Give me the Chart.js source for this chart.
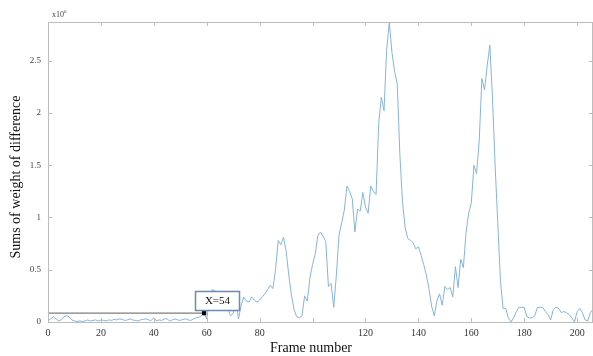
<!DOCTYPE html>
<html>
<head>
<meta charset="utf-8">
<script src="https://cdn.jsdelivr.net/npm/chart.js@4.4.1/dist/chart.umd.min.js"></script>
<style>
 body { margin: 0; background: #fff; }
 canvas { display: block; }
</style>
</head>
<body>
<canvas id="diffChart" width="593" height="356"></canvas>
<script>
// sums of weight of difference, in units of 10^6, one value per frame (0..206)
const diffValues = [
 0.01, 0.03, 0.05, 0.03, 0.01, 0.02, 0.05, 0.06, 0.05, 0.02, 0.01,
 0.005, 0.01, 0.005, 0.01, 0.02, 0.01, 0.015, 0.02, 0.01, 0.02,
 0.015, 0.01, 0.02, 0.015, 0.025, 0.02, 0.03, 0.025, 0.015, 0.02,
 0.03, 0.02, 0.015, 0.01, 0.02, 0.025, 0.03, 0.02, 0.015, 0.04,
 0.01, 0.02, 0.015, 0.03, 0.03, 0.01, 0.02, 0.03, 0.02, 0.015,
 0.025, 0.03, 0.02, 0.015, 0.03, 0.04, 0.045, 0.06,
 0.085,
 0.03, 0.2, 0.31, 0.3, 0.2, 0.15, 0.11, 0.17, 0.12, 0.06,
 0.08, 0.2, 0.03, 0.16, 0.24, 0.2, 0.19, 0.24, 0.21, 0.19,
 0.21, 0.24, 0.27, 0.31, 0.35, 0.32, 0.5, 0.78, 0.74, 0.81,
 0.68, 0.45, 0.26, 0.12, 0.05, 0.04, 0.06, 0.25, 0.2, 0.42,
 0.55, 0.65, 0.83, 0.86, 0.82, 0.77, 0.34, 0.37, 0.14, 0.45,
 0.83, 0.95, 1.07, 1.3, 1.25, 1.18, 0.86, 1.08, 1.06, 1.24,
 1.1, 1.04, 1.3, 1.25, 1.22, 1.9, 2.15, 2.02, 2.6, 2.87,
 2.58, 2.4, 2.28, 1.6, 1.15, 0.9, 0.8, 0.78, 0.76, 0.7,
 0.72, 0.64, 0.55, 0.45, 0.32, 0.15, 0.06, 0.2, 0.27, 0.16,
 0.34, 0.31, 0.33, 0.24, 0.53, 0.33, 0.6, 0.52, 0.85, 1.04,
 1.14, 1.5, 1.42, 1.74, 2.33, 2.22, 2.45, 2.65, 2.15, 1.5,
 0.95, 0.4, 0.13, 0.13, 0.04, 0.0, 0.04, 0.1, 0.14, 0.14,
 0.14, 0.05, 0.04, 0.04, 0.06, 0.14, 0.14, 0.14, 0.1, 0.07,
 0.02, 0.12, 0.14, 0.13, 0.09, 0.1, 0.09, 0.07, 0.04, 0.0,
 0.1, 0.13, 0.09, 0.02, 0.01, 0.09, 0.12
];
const frames = diffValues.map((v, i) => i);

const xTicks = [0, 20, 40, 60, 80, 100, 120, 140, 160, 180, 200];
const xLabelHidden = [100]; // the reference shows no "100" label
const yTicks = [0, 0.5, 1, 1.5, 2, 2.5];

// data tip
const tipFrame = 59;
const tipLevel = 0.085;
const tipText = 'X=54';

const serif = '"Liberation Serif", "Times New Roman", serif';

const frameAxes = {
 id: 'frameAxes',
 afterDraw(chart) {
  const { ctx, chartArea: a, scales } = chart;
  const x = scales.x, y = scales.y;
  ctx.save();
  // box
  ctx.strokeStyle = '#bdbdbd';
  ctx.lineWidth = 1;
  ctx.strokeRect(a.left + 0.5, a.top + 0.5, a.right - a.left - 1, a.bottom - a.top);
  // inward ticks
  ctx.beginPath();
  xTicks.forEach(t => {
   const px = Math.round(x.getPixelForValue(t)) + 0.5;
   ctx.moveTo(px, a.bottom); ctx.lineTo(px, a.bottom - 4);
   ctx.moveTo(px, a.top); ctx.lineTo(px, a.top + 4);
  });
  yTicks.forEach(t => {
   const py = Math.round(y.getPixelForValue(t)) + 0.5;
   ctx.moveTo(a.left, py); ctx.lineTo(a.left + 4, py);
   ctx.moveTo(a.right, py); ctx.lineTo(a.right - 4, py);
  });
  ctx.stroke();

  // exponent label
  ctx.fillStyle = '#444';
  ctx.textBaseline = 'alphabetic';
  ctx.textAlign = 'left';
  ctx.font = '8px ' + serif;
  ctx.fillText('x10', 52, 17);
  ctx.font = '5px ' + serif;
  ctx.fillText('6', 64, 13);

  // axis titles
  ctx.fillStyle = '#111';
  ctx.font = '14px ' + serif;
  ctx.textAlign = 'center';
  ctx.textBaseline = 'middle';
  ctx.fillText('Frame number', 311, 348);
  ctx.save();
  ctx.translate(16, 177);
  ctx.rotate(-Math.PI / 2);
  ctx.font = '14px ' + serif;
  ctx.fillText('Sums of weight of difference', 0, 0);
  ctx.restore();

  // data tip box
  const mx = x.getPixelForValue(tipFrame);
  const my = y.getPixelForValue(tipLevel);
  const bx = Math.round(mx) - 9, by = Math.round(my) - 22, bw = 44, bh = 19;
  ctx.fillStyle = '#fff';
  ctx.fillRect(bx, by, bw, bh);
  ctx.strokeStyle = '#6a8cb0';
  ctx.lineWidth = 1.5;
  ctx.strokeRect(bx + 0.5, by + 0.5, bw, bh);
  ctx.fillStyle = '#111';
  ctx.font = '11px ' + serif;
  ctx.fillText(tipText, bx + bw / 2 + 0.5, by + bh / 2 + 1);
  ctx.restore();
 }
};

new Chart(document.getElementById('diffChart').getContext('2d'), {
 type: 'line',
 data: {
  datasets: [
   {
    data: [{ x: 0, y: tipLevel }, { x: tipFrame, y: tipLevel }],
    borderColor: '#7d7d7d',
    borderWidth: 1.2,
    pointRadius: [0, 2.2],
    pointStyle: 'rect',
    pointBackgroundColor: '#000',
    pointBorderColor: '#000',
    order: 0
   },
   {
    data: frames.map((f, i) => ({ x: f, y: diffValues[i] })),
    borderColor: '#84b5dc',
    borderWidth: 1,
    pointRadius: 0,
    tension: 0,
    order: 1
   }
  ]
 },
 options: {
  responsive: false,
  animation: false,
  devicePixelRatio: 1,
  layout: { autoPadding: false, padding: { top: 22, right: 0, left: 0, bottom: 0 } },
  plugins: { legend: { display: false }, tooltip: { enabled: false } },
  scales: {
   x: {
    type: 'linear',
    min: 0,
    max: 206,
    grid: { display: false, drawTicks: false },
    border: { display: false },
    afterFit: s => { s.height = 34; s.paddingLeft = 0; s.paddingRight = 0; },
    afterBuildTicks: s => { s.ticks = xTicks.map(v => ({ value: v })); },
    ticks: {
     autoSkip: false,
     maxRotation: 0,
     padding: 5,
     color: '#333',
     font: { family: serif, size: 10 },
     callback: v => xLabelHidden.includes(v) ? '' : String(v)
    }
   },
   y: {
    min: 0,
    max: 2.87,
    grid: { display: false, drawTicks: false },
    border: { display: false },
    afterFit: s => { s.width = 48; s.paddingTop = 0; s.paddingBottom = 0; },
    afterBuildTicks: s => { s.ticks = yTicks.map(v => ({ value: v })); },
    ticks: {
     padding: 7,
     color: '#444',
     font: { family: serif, size: 9 },
     callback: v => String(v)
    }
   }
  }
 },
 plugins: [frameAxes]
});
</script>
</body>
</html>
